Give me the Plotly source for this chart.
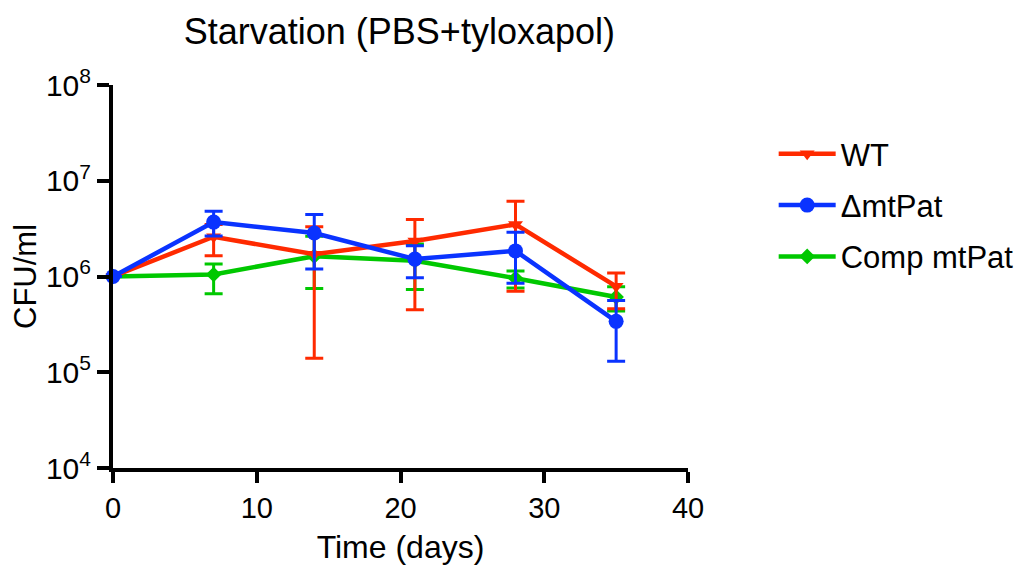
import plotly.graph_objects as go

days = [0, 7, 14, 21, 28, 35]

wt_mean = [1.0e6, 2.6e6, 1.71e6, 2.35e6, 3.5e6, 7.9e5]
wt_up = [0, 0.9e6, 1.6e6, 1.6e6, 2.6e6, 0.3e6]
wt_dn = [0, 0.95e6, 1.57e6, 1.9e6, 2.8e6, 0.33e6]

dm_mean = [1.0e6, 3.7e6, 2.85e6, 1.52e6, 1.85e6, 3.4e5]
dm_up = [0, 1.1e6, 1.6e6, 0.57e6, 1.05e6, 2.2e5]
dm_dn = [0, 1.05e6, 1.65e6, 0.55e6, 1.0e6, 2.1e5]

cp_mean = [1.0e6, 1.05e6, 1.63e6, 1.46e6, 9.6e5, 6.1e5]
cp_up = [0, 0.3e6, 1.0e6, 0.73e6, 1.8e5, 1.7e5]
cp_dn = [0, 0.39e6, 0.88e6, 0.73e6, 2.0e5, 1.75e5]

names = ["WT", "ΔmtPat", "Comp mtPat"]
colors = ["#FF2A00", "#0A33FF", "#00C800"]
symbols = ["triangle-down", "circle", "diamond"]

y_ticks = [1e4, 1e5, 1e6, 1e7, 1e8]
y_ticktext = ["10<sup>4</sup>", "10<sup>5</sup>", "10<sup>6</sup>", "10<sup>7</sup>", "10<sup>8</sup>"]
x_ticks = [0, 10, 20, 30, 40]

series = [
    (wt_mean, wt_up, wt_dn),
    (dm_mean, dm_up, dm_dn),
    (cp_mean, cp_up, cp_dn),
]
sizes = [13, 15, 12]

fig = go.Figure()
order = [2, 0, 1]  # draw green first, blue on top
for i in order:
    m, up, dn = series[i]
    fig.add_trace(go.Scatter(
        x=days, y=m, name=names[i], mode="lines+markers",
        line=dict(color=colors[i], width=4.5),
        marker=dict(symbol=symbols[i], size=sizes[i], color=colors[i]),
        error_y=dict(type="data", array=up, arrayminus=dn, symmetric=False,
                     color=colors[i], thickness=3, width=9),
        legendrank=i + 1,
        legendgroup=names[i],
        cliponaxis=False,
    ))

fig.update_layout(
    width=1024, height=573,
    margin=dict(l=113, r=336, t=85, b=105, autoexpand=False),
    paper_bgcolor="white", plot_bgcolor="white",
    font=dict(family="Liberation Sans, Arial, sans-serif", color="black", size=28),
    title=dict(text="Starvation (PBS+tyloxapol)", x=0.39, xanchor="center",
               y=0.945, yanchor="middle", font=dict(size=36)),
    showlegend=True,
    legend=dict(x=1.149, y=0.89, xanchor="left", yanchor="top",
                font=dict(size=31), itemwidth=57, tracegroupgap=8,
                traceorder="grouped",
                bgcolor="rgba(0,0,0,0)"),
    xaxis=dict(range=[0, 40], tickvals=x_ticks, showgrid=False, zeroline=False,
               showline=True, linecolor="black", linewidth=4,
               ticks="outside", ticklen=11, tickwidth=3.5, tickcolor="black",
               title=dict(text="Time (days)", font=dict(size=32), standoff=14),
               tickfont=dict(size=29)),
    yaxis=dict(type="log", range=[4, 8], tickvals=y_ticks, ticktext=y_ticktext,
               showgrid=False, zeroline=False,
               showline=True, linecolor="black", linewidth=4,
               ticks="outside", ticklen=12, tickwidth=3.5, tickcolor="black",
               title=dict(text="CFU/ml", font=dict(size=31), standoff=1),
               tickfont=dict(size=30)),
)

fig.write_html("out.html")
